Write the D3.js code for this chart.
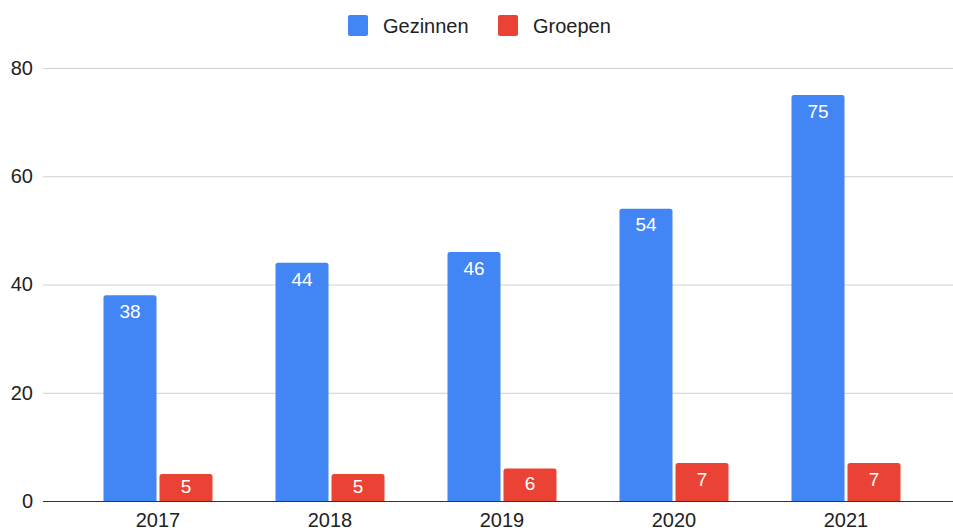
<!DOCTYPE html>
<html>
<head>
<meta charset="utf-8">
<script src="https://cdn.jsdelivr.net/npm/d3@7"></script>
<style>
  body { margin: 0; background: #fff; }
  text { font-family: "Liberation Sans", Arial, sans-serif; }
</style>
</head>
<body>
<div id="chart"></div>
<script>
// Chart data
var years = ["2017", "2018", "2019", "2020", "2021"];
var gezinnen = [38, 44, 46, 54, 75];
var groepen = [5, 5, 6, 7, 7];
var seriesNames = ["Gezinnen", "Groepen"];
var seriesColors = ["#4285F4", "#EA4335"];
var yTicks = [0, 20, 40, 60, 80];

var svgWidth = 953;
var svgHeight = 530;

var svg = d3.select("#chart").append("svg")
  .attr("width", svgWidth)
  .attr("height", svgHeight);

// scales
var x = d3.scaleBand()
  .domain(years)
  .range([72, 932]);

var y = d3.scaleLinear()
  .domain([0, 80])
  .range([501, 68]);

var barWidth = 53;
var barGap = 3;

// gridlines
svg.append("g")
  .selectAll("line")
  .data(yTicks.filter(d => d !== 0))
  .enter()
  .append("line")
  .attr("x1", 43)
  .attr("x2", 953)
  .attr("y1", d => y(d) + 0.5)
  .attr("y2", d => y(d) + 0.5)
  .attr("stroke", "#d0d0d0")
  .attr("stroke-width", 1);

// y axis labels
var leftAxis = d3.axisLeft(y).tickValues(yTicks).tickSize(0).tickPadding(0);
var yAxis = svg.append("g")
  .attr("transform", "translate(33,0)")
  .call(leftAxis);
yAxis.select(".domain").remove();
yAxis.selectAll("text")
  .attr("font-size", "20px")
  .attr("fill", "#222")
  .attr("font-family", "Liberation Sans, Arial, sans-serif");

// bars
var table = years.map((yr, i) => ({ year: yr, values: [gezinnen[i], groepen[i]] }));

function barPath(x0, top, w, bottom, r) {
  r = Math.min(r, bottom - top);
  return `M${x0},${bottom}V${top + r}Q${x0},${top} ${x0 + r},${top}H${x0 + w - r}Q${x0 + w},${top} ${x0 + w},${top + r}V${bottom}Z`;
}

var groups = svg.selectAll(".year")
  .data(table)
  .enter()
  .append("g")
  .attr("class", "year");

groups.each(function(d) {
  var g = d3.select(this);
  var center = x(d.year) + x.bandwidth() / 2;
  d.values.forEach(function(v, s) {
    var x0 = s === 0 ? center - barGap / 2 - barWidth : center + barGap / 2;
    var top = y(v);
    g.append("path")
      .attr("d", barPath(x0, top, barWidth, y(0), 2.5))
      .attr("fill", seriesColors[s]);
    var h = y(0) - top;
    g.append("text")
      .attr("x", x0 + barWidth / 2)
      .attr("y", top + Math.min(16, h / 2 - 1.5))
      .attr("dy", "0.35em")
      .attr("text-anchor", "middle")
      .attr("font-size", "19px")
      .attr("fill", "#fff")
      .text(v);
  });
});

// baseline
svg.append("line")
  .attr("x1", 43)
  .attr("x2", 953)
  .attr("y1", y(0) + 0.5)
  .attr("y2", y(0) + 0.5)
  .attr("stroke", "#333")
  .attr("stroke-width", 1);

// x axis labels
var bottomAxis = d3.axisBottom(x).tickSize(0).tickPadding(0);
var xAxis = svg.append("g")
  .attr("transform", "translate(0,513)")
  .call(bottomAxis);
xAxis.select(".domain").remove();
xAxis.selectAll("text")
  .attr("font-size", "20px")
  .attr("fill", "#222")
  .attr("font-family", "Liberation Sans, Arial, sans-serif");

// legend
var legendX = [348, 498];
var legend = svg.selectAll(".legend")
  .data(seriesNames)
  .enter()
  .append("g")
  .attr("class", "legend")
  .attr("transform", (d, i) => `translate(${legendX[i]}, 15)`);

legend.append("rect")
  .attr("width", 20)
  .attr("height", 21)
  .attr("rx", 2)
  .attr("fill", (d, i) => seriesColors[i]);

legend.append("text")
  .attr("x", 35)
  .attr("y", 10.5)
  .attr("dy", "0.35em")
  .attr("font-size", "20px")
  .attr("fill", "#222")
  .text(d => d);
</script>
</body>
</html>
